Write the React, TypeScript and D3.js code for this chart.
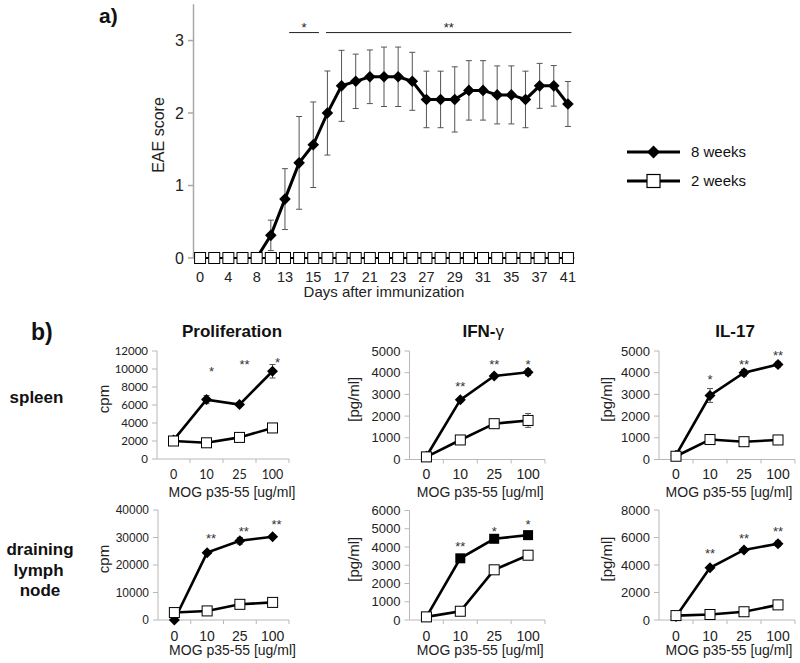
import React from "react";
import * as d3 from "d3";

// ---------- Panel a) EAE course ----------
const dayLabels = ["0","2","4","6","8","11","13","14","15","16","17","20","21","22","23","24","27","28","29","30","31","34","35","36","37","38","41"];
const eae8Weeks: (number | null)[] = [null,null,null,null,0,0.3125,0.8125,1.3125,1.5625,2.0,2.375,2.4375,2.5,2.5,2.5,2.4375,2.1875,2.1875,2.1875,2.3125,2.3125,2.25,2.25,2.1875,2.375,2.375,2.125];
const eae8WeeksErr = [0,0,0,0,0,0.21,0.42,0.64,0.59,0.58,0.49,0.375,0.37,0.41,0.41,0.4,0.39,0.39,0.45,0.41,0.41,0.4,0.4,0.39,0.31,0.28,0.31];
const eae2Weeks = [0,0,0,0,0,0,0,0,0,0,0,0,0,0,0,0,0,0,0,0,0,0,0,0,0,0,0];
const eaeYTicks = [0, 1, 2, 3];
const sigFromIdx = [6.3, 8.9];
const sigToIdx = [8.4, 26.25];
const sigLabels = ["*", "**"];
const sigLevel = 3.11;
const legendLabels = ["8 weeks", "2 weeks"];

// ---------- Panel b) recall responses ----------
const doses = ["0", "10", "25", "100"];

const prolSpleen8 = [2100, 6600, 6050, 9750];
const prolSpleen8Err = [150, 450, 200, 750];
const prolSpleen2 = [2000, 1800, 2400, 3450];
const prolSpleen2Err = [100, 100, 150, 200];
const prolSpleenSig = ["", "*", "**", "*"];
const prolSpleenSigAt = [0, 10000, 10800, 11000];

const ifnSpleen8 = [150, 2750, 3850, 4020];
const ifnSpleen8Err = [50, 100, 100, 150];
const ifnSpleen2 = [120, 900, 1650, 1800];
const ifnSpleen2Err = [50, 80, 100, 320];
const ifnSpleenSig = ["", "**", "**", "*"];
const ifnSpleenSigAt = [0, 3470, 4510, 4510];

const il17Spleen8 = [200, 2950, 4000, 4380];
const il17Spleen8Err = [60, 320, 150, 120];
const il17Spleen2 = [150, 920, 820, 900];
const il17Spleen2Err = [50, 60, 60, 60];
const il17SpleenSig = ["", "*", "**", "**"];
const il17SpleenSigAt = [0, 3790, 4510, 4920];

const prolLn8 = [0, 24500, 28800, 30300];
const prolLn8Err = [100, 600, 1200, 600];
const prolLn2 = [2700, 3300, 5700, 6400];
const prolLn2Err = [300, 300, 500, 500];
const prolLnSig = ["", "**", "**", "**"];
const prolLnSigAt = [0, 30500, 33000, 35700];

const ifnLn8 = [170, 3380, 4450, 4650];
const ifnLn8Err = [30, 100, 120, 100];
const ifnLn2 = [170, 480, 2750, 3550];
const ifnLn2Err = [30, 60, 100, 100];
const ifnLnSig = ["", "**", "*", "*"];
const ifnLnSigAt = [0, 4150, 5000, 5360];

const il17Ln8 = [250, 3800, 5100, 5550];
const il17Ln8Err = [50, 100, 150, 200];
const il17Ln2 = [320, 400, 600, 1100];
const il17Ln2Err = [40, 40, 60, 80];
const il17LnSig = ["", "**", "**", "**"];
const il17LnSigAt = [0, 5040, 6110, 6600];

const ARIAL = "'Liberation Sans', Arial, sans-serif";

function diamond(cx: number, cy: number, r: number) {
  return `M${cx},${cy - r}L${cx + r},${cy}L${cx},${cy + r}L${cx - r},${cy}Z`;
}

type PanelCfg = {
  x0: number; x1: number; yBottom: number; yTop: number;
  max: number; step: number;
  s8: number[]; e8: number[]; s2: number[]; e2: number[];
  sig: string[]; sigAt: number[]; sigDx: number;
  title?: string; titleDx: number; ylabel: string; ylabelX: number;
  tickFont: string; tickSize: number; xTickFont: string; xTickSize: number;
  square8?: boolean; xLabelY: number; mogY: number; mogDx: number;
};

function Panel({ c }: { c: PanelCfg }) {
  const x = d3.scaleBand<string>().domain(doses).range([c.x0, c.x1]);
  const y = d3.scaleLinear().domain([0, c.max]).range([c.yBottom, c.yTop]);
  const ticks = d3.range(0, c.max + 1, c.step);
  const cx = (i: number) => (x(doses[i]) as number) + x.bandwidth() / 2;
  const line = d3.line<number>().x((_, i) => cx(i)).y((d) => y(d));
  const mid = (c.x0 + c.x1) / 2;
  const axisCol = "#b8b8b8";
  const errCol = "#555";
  const err = (vals: number[], errs: number[]) =>
    vals.map((v, i) => (
      <g key={i} stroke={errCol} strokeWidth={1}>
        <line x1={cx(i)} x2={cx(i)} y1={y(v + errs[i])} y2={y(Math.max(0, v - errs[i]))} />
        <line x1={cx(i) - 3} x2={cx(i) + 3} y1={y(v + errs[i])} y2={y(v + errs[i])} />
        <line x1={cx(i) - 3} x2={cx(i) + 3} y1={y(Math.max(0, v - errs[i]))} y2={y(Math.max(0, v - errs[i]))} />
      </g>
    ));
  return (
    <g>
      {c.title && (
        <text x={mid + c.titleDx} y={336.5} textAnchor="middle" fontFamily={ARIAL} fontWeight="bold" fontSize={17} fill="#111">
          {c.title === "IFN-γ" ? (<>IFN-<tspan fontWeight="normal">γ</tspan></>) : c.title}
        </text>
      )}
      {/* axes */}
      <line x1={c.x0} x2={c.x0} y1={c.yTop} y2={c.yBottom} stroke={axisCol} />
      <line x1={c.x0} x2={c.x1} y1={c.yBottom} y2={c.yBottom} stroke={axisCol} />
      {ticks.map((t) => (
        <g key={t}>
          <line x1={c.x0 - 5} x2={c.x0} y1={y(t)} y2={y(t)} stroke={axisCol} />
          <text x={c.x0 - 9} y={y(t)} dy="0.36em" textAnchor="end" fontFamily={c.tickFont} fontSize={c.tickSize} fill="#222">{t}</text>
        </g>
      ))}
      {doses.map((d, i) => (
        <g key={d}>
          <line x1={(x(d) as number) + x.bandwidth()} x2={(x(d) as number) + x.bandwidth()} y1={c.yBottom} y2={c.yBottom + 4} stroke={axisCol} />
          <text x={cx(i)} y={c.xLabelY} dy="0.36em" textAnchor="middle" fontFamily={c.xTickFont} fontSize={c.xTickSize} fill="#222">{d}</text>
        </g>
      ))}
      <text x={mid + c.mogDx} y={c.mogY} dy="0.36em" textAnchor="middle" fontFamily={ARIAL} fontSize={14} fill="#222">MOG p35-55 [ug/ml]</text>
      <text transform={`translate(${c.ylabelX},${(c.yTop + c.yBottom) / 2 - 6}) rotate(-90)`} dy="0.36em" textAnchor="middle" fontFamily={ARIAL} fontSize={15} fill="#222">{c.ylabel}</text>
      {/* error bars */}
      {err(c.s8, c.e8)}
      {err(c.s2, c.e2)}
      {/* lines */}
      <path d={line(c.s8) as string} fill="none" stroke="#000" strokeWidth={2.6} />
      <path d={line(c.s2) as string} fill="none" stroke="#000" strokeWidth={2.6} />
      {c.s8.map((v, i) =>
        c.square8 ? (
          <rect key={i} x={cx(i) - 5} y={y(v) - 5} width={10} height={10} fill="#000" />
        ) : (
          <path key={i} d={diamond(cx(i), y(v), 5.5)} fill="#000" />
        )
      )}
      {c.s2.map((v, i) => (
        <rect key={i} x={cx(i) - 5} y={y(v) - 5} width={10} height={10} fill="#fff" stroke="#000" strokeWidth={1} />
      ))}
      {c.sig.map((s, i) => s ? (
        <text key={i} x={cx(i) + c.sigDx} y={y(c.sigAt[i]) + 7} textAnchor="middle" fontFamily={ARIAL} fontSize={13} fill="#333">{s}</text>
      ) : null)}
    </g>
  );
}

function EaePanel() {
  const x = d3.scaleBand<string>().domain(dayLabels).range([193, 575]);
  const y = d3.scaleLinear().domain([0, 3.5]).range([258, 4.3]);
  const cx = (i: number) => (x(dayLabels[i]) as number) + x.bandwidth() / 2;
  const idx = d3.scaleLinear().domain([0, dayLabels.length - 1]).range([cx(0), cx(dayLabels.length - 1)]);
  const line8 = d3.line<number | null>().defined((d) => d !== null).x((_, i) => cx(i)).y((d) => y(d as number));
  const line2 = d3.line<number>().x((_, i) => cx(i)).y((d) => y(d));
  const axisCol = "#a8a8a8";
  return (
    <g>
      <text x={99} y={23} fontFamily={ARIAL} fontWeight="bold" fontSize={21} fill="#111">a)</text>
      <line x1={193.5} x2={193.5} y1={4.3} y2={258} stroke={axisCol} strokeWidth={1.5} />
      <line x1={193} x2={575} y1={258} y2={258} stroke={axisCol} strokeWidth={1.5} />
      {eaeYTicks.map((t) => (
        <g key={t}>
          <line x1={188} x2={193} y1={y(t)} y2={y(t)} stroke={axisCol} strokeWidth={1.5} />
          <text x={184} y={y(t)} dy="0.36em" textAnchor="end" fontFamily={ARIAL} fontSize={16} fill="#222">{t}</text>
        </g>
      ))}
      {dayLabels.map((d, i) => i % 2 === 0 ? (
        <text key={d} x={cx(i)} y={276.5} dy="0.36em" textAnchor="middle" fontFamily={ARIAL} fontSize={14.5} fill="#222">{d}</text>
      ) : null)}
      <text x={384} y={292} dy="0.36em" textAnchor="middle" fontFamily={ARIAL} fontSize={15} fill="#222">Days after immunization</text>
      <text transform={`translate(158,135) rotate(-90)`} dy="0.36em" textAnchor="middle" fontFamily={ARIAL} fontSize={16} fill="#222">EAE score</text>
      {/* significance bars */}
      {sigLabels.map((s, k) => (
        <g key={k}>
          <line x1={idx(sigFromIdx[k])} x2={idx(sigToIdx[k])} y1={y(sigLevel)} y2={y(sigLevel)} stroke="#222" strokeWidth={1} />
          <text x={(idx(sigFromIdx[k]) + idx(sigToIdx[k])) / 2} y={y(sigLevel) - 1} textAnchor="middle" fontFamily={ARIAL} fontSize={13} fill="#222">{s}</text>
        </g>
      ))}
      {/* error bars */}
      {eae8Weeks.map((v, i) => v !== null && eae8WeeksErr[i] > 0 ? (
        <g key={i} stroke="#555" strokeWidth={1}>
          <line x1={cx(i)} x2={cx(i)} y1={y(v + eae8WeeksErr[i])} y2={y(v - eae8WeeksErr[i])} />
          <line x1={cx(i) - 3} x2={cx(i) + 3} y1={y(v + eae8WeeksErr[i])} y2={y(v + eae8WeeksErr[i])} />
          <line x1={cx(i) - 3} x2={cx(i) + 3} y1={y(v - eae8WeeksErr[i])} y2={y(v - eae8WeeksErr[i])} />
        </g>
      ) : null)}
      <path d={line8(eae8Weeks) as string} fill="none" stroke="#000" strokeWidth={3} />
      {eae8Weeks.map((v, i) => v !== null ? <path key={i} d={diamond(cx(i), y(v), 5.8)} fill="#000" /> : null)}
      <path d={line2(eae2Weeks) as string} fill="none" stroke="#000" strokeWidth={2} />
      {eae2Weeks.map((v, i) => (
        <rect key={i} x={cx(i) - 5.5} y={y(v) - 5.5} width={11} height={11} fill="#fff" stroke="#000" strokeWidth={1} />
      ))}
      {/* legend */}
      {legendLabels.map((l, k) => {
        const ly = 152 + k * 29;
        return (
          <g key={l}>
            <line x1={627} x2={680} y1={ly} y2={ly} stroke="#000" strokeWidth={3} />
            {k === 0 ? <path d={diamond(653.5, ly, 6.5)} fill="#000" /> : <rect x={647} y={ly - 6.5} width={13} height={13} fill="#fff" stroke="#000" strokeWidth={1.2} />}
            <text x={691} y={ly} dy="0.36em" fontFamily={ARIAL} fontSize={15} fill="#111">{l}</text>
          </g>
        );
      })}
    </g>
  );
}

const LATO = "Lato, 'Open Sans', sans-serif";
const panels: PanelCfg[] = [
  { x0: 157, x1: 289, yBottom: 459, yTop: 351, max: 12000, step: 2000, s8: prolSpleen8, e8: prolSpleen8Err, s2: prolSpleen2, e2: prolSpleen2Err, sig: prolSpleenSig, sigAt: prolSpleenSigAt, sigDx: 5, title: "Proliferation", titleDx: 9, ylabel: "cpm", ylabelX: 103.5, tickFont: LATO, tickSize: 11.5, xTickFont: LATO, xTickSize: 12.5, xLabelY: 474, mogY: 492, mogDx: 9 },
  { x0: 409.5, x1: 545, yBottom: 459.5, yTop: 351, max: 5000, step: 1000, s8: ifnSpleen8, e8: ifnSpleen8Err, s2: ifnSpleen2, e2: ifnSpleen2Err, sig: ifnSpleenSig, sigAt: ifnSpleenSigAt, sigDx: 0, title: "IFN-γ", titleDx: 6, ylabel: "[pg/ml]", ylabelX: 353.5, tickFont: ARIAL, tickSize: 13, xTickFont: ARIAL, xTickSize: 14, xLabelY: 474, mogY: 492, mogDx: 3 },
  { x0: 659, x1: 795, yBottom: 459.5, yTop: 351, max: 5000, step: 1000, s8: il17Spleen8, e8: il17Spleen8Err, s2: il17Spleen2, e2: il17Spleen2Err, sig: il17SpleenSig, sigAt: il17SpleenSigAt, sigDx: 0, title: "IL-17", titleDx: 8, ylabel: "[pg/ml]", ylabelX: 606.5, tickFont: ARIAL, tickSize: 13, xTickFont: ARIAL, xTickSize: 14, xLabelY: 474, mogY: 492, mogDx: 2 },
  { x0: 158, x1: 289, yBottom: 620, yTop: 510, max: 40000, step: 10000, s8: prolLn8, e8: prolLn8Err, s2: prolLn2, e2: prolLn2Err, sig: prolLnSig, sigAt: prolLnSigAt, sigDx: 4, ylabel: "cpm", ylabelX: 103.5, titleDx: 0, tickFont: ARIAL, tickSize: 12, xTickFont: ARIAL, xTickSize: 14, xLabelY: 635.5, mogY: 650, mogDx: 9 },
  { x0: 409.5, x1: 545, yBottom: 620, yTop: 510.5, max: 6000, step: 1000, s8: ifnLn8, e8: ifnLn8Err, s2: ifnLn2, e2: ifnLn2Err, sig: ifnLnSig, sigAt: ifnLnSigAt, sigDx: 0, ylabel: "[pg/ml]", ylabelX: 354, titleDx: 0, tickFont: ARIAL, tickSize: 13, xTickFont: ARIAL, xTickSize: 14, square8: true, xLabelY: 635.5, mogY: 650, mogDx: 3 },
  { x0: 659, x1: 795, yBottom: 620, yTop: 510, max: 8000, step: 2000, s8: il17Ln8, e8: il17Ln8Err, s2: il17Ln2, e2: il17Ln2Err, sig: il17LnSig, sigAt: il17LnSigAt, sigDx: 0, ylabel: "[pg/ml]", ylabelX: 606.5, titleDx: 0, tickFont: ARIAL, tickSize: 13, xTickFont: ARIAL, xTickSize: 14, xLabelY: 635.5, mogY: 650, mogDx: 2 },
];

export default function App() {
  return (
    <svg width={800} height={663} style={{ position: "absolute", left: 0, top: 0, background: "#fff" }}>
      <rect width={800} height={663} fill="#fff" />
      <EaePanel />
      <text x={31} y={340} fontFamily={ARIAL} fontWeight="bold" fontSize={23} fill="#111">b)</text>
      <text x={36.5} y={403} textAnchor="middle" fontFamily={ARIAL} fontWeight="bold" fontSize={17} fill="#111">spleen</text>
      <text x={40} y={555} textAnchor="middle" fontFamily={ARIAL} fontWeight="bold" fontSize={17} fill="#111">draining</text>
      <text x={38.5} y={575.5} textAnchor="middle" fontFamily={ARIAL} fontWeight="bold" fontSize={17} fill="#111">lymph</text>
      <text x={40} y={596} textAnchor="middle" fontFamily={ARIAL} fontWeight="bold" fontSize={17} fill="#111">node</text>
      {panels.map((p, i) => <Panel key={i} c={p} />)}
    </svg>
  );
}
